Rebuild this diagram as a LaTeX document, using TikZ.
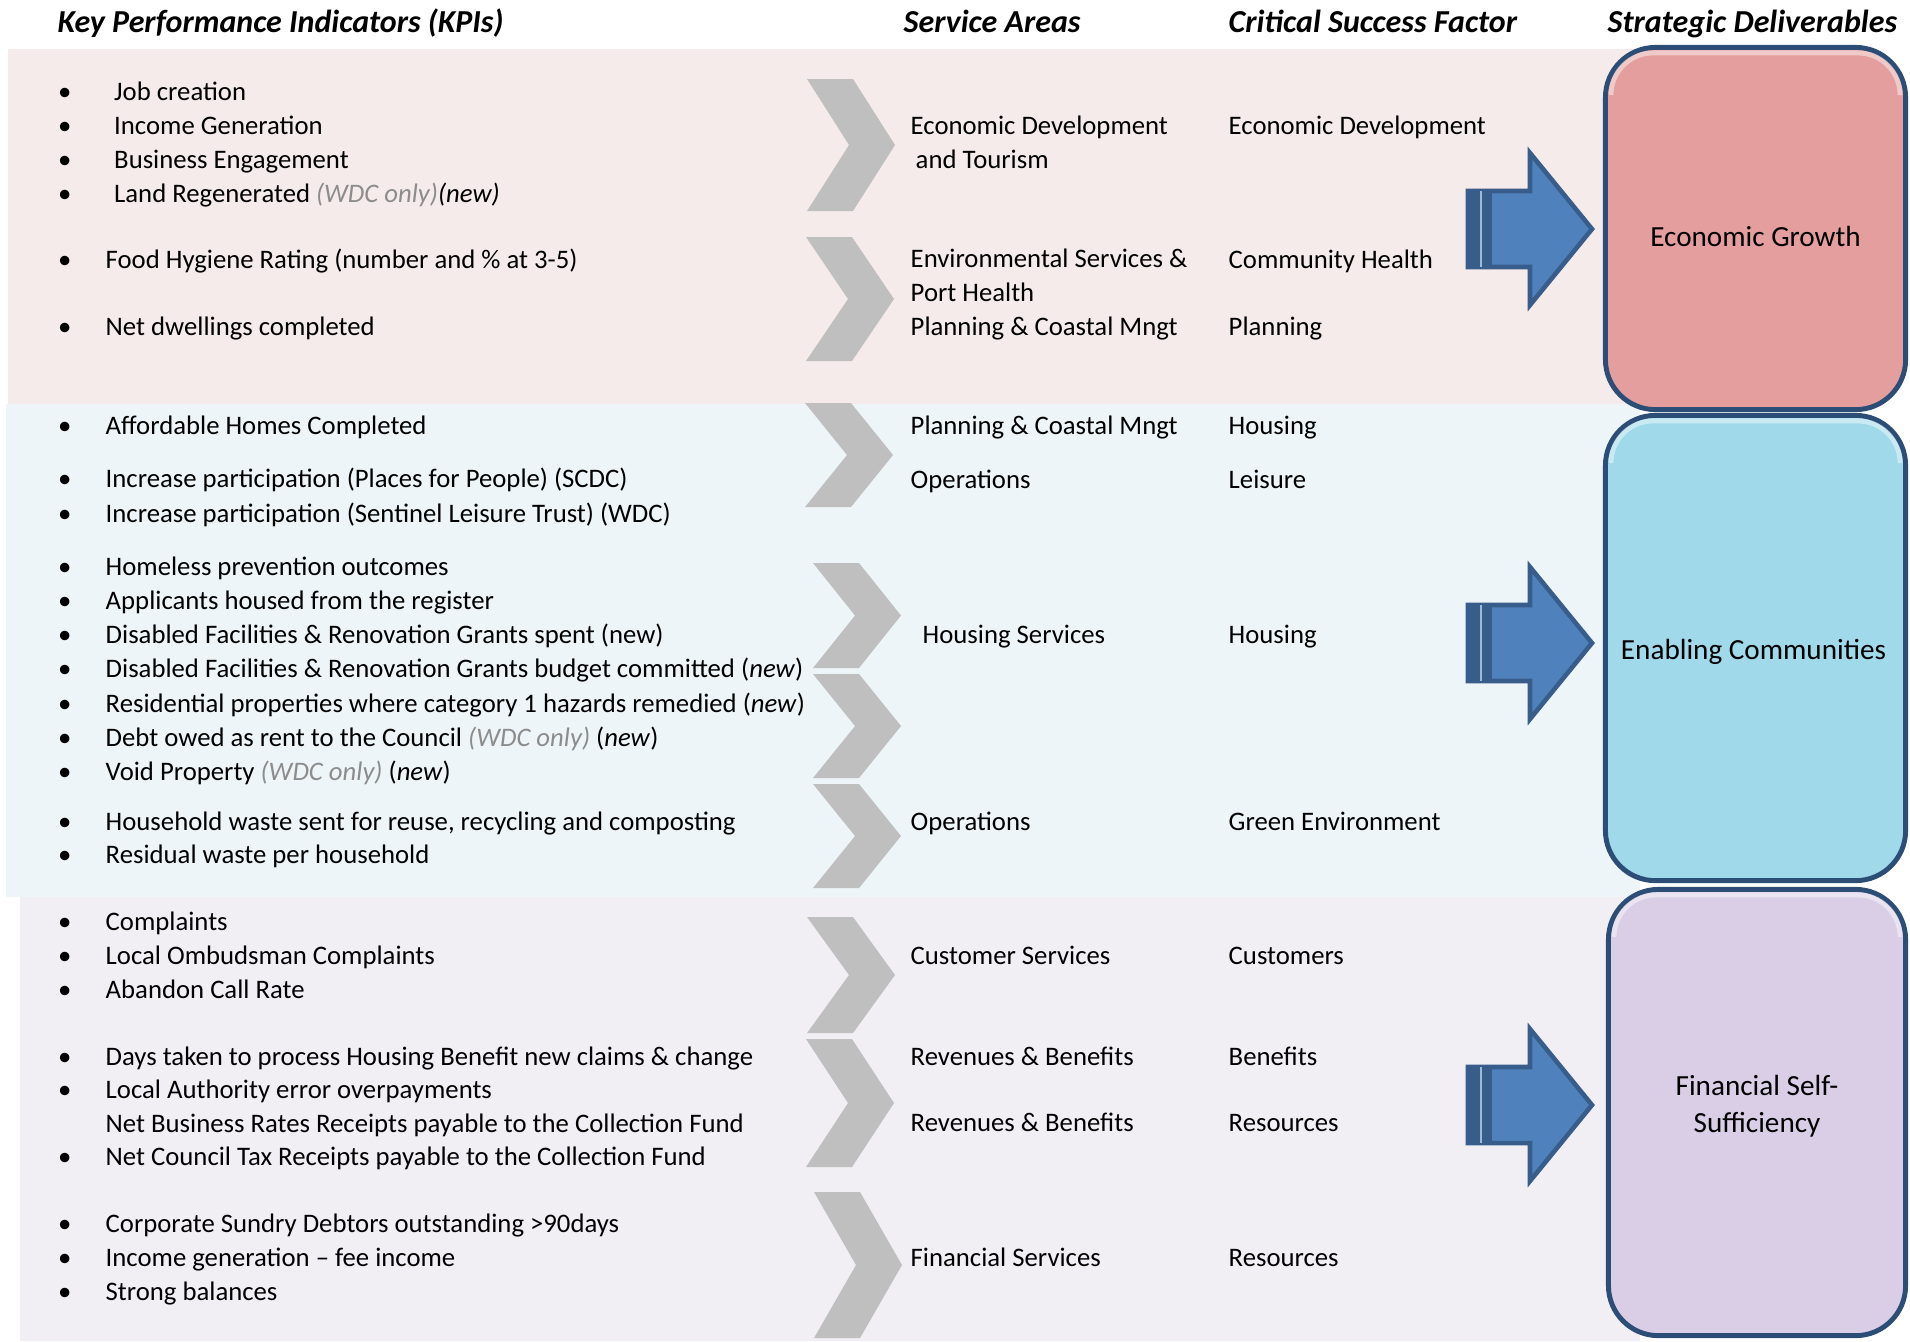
\documentclass[tikz,border=0pt]{standalone}
\usepackage{fontspec}
\setmainfont{Carlito}
\usetikzlibrary{calc}
\pgfdeclarelayer{bandbg}
\pgfsetlayers{bandbg,main}

\definecolor{pinkband}{HTML}{F5EBEB}
\definecolor{blueband}{HTML}{EDF5F8}
\definecolor{lilacband}{HTML}{F1EFF4}
\definecolor{chevgrey}{HTML}{BFBFBF}
\definecolor{arrowblue}{HTML}{4F81BD}
\definecolor{arrowedge}{HTML}{385D8A}
\definecolor{boxedge}{HTML}{2C4D75}
\definecolor{growthred}{HTML}{E59E9E}
\definecolor{enablecyan}{HTML}{A0D9EA}
\definecolor{selfviolet}{HTML}{DACDE6}
\definecolor{wdcgrey}{HTML}{8C8C8C}

\newcommand{\kpibul}[1][4.75mm]{\makebox[#1][l]{\textbullet}}
\newcommand{\kpinobul}{\hspace*{4.75mm}}
\newcommand{\wdconly}{\textcolor{wdcgrey}{\textit{(WDC only)}}}
% grey chevron: left edge, top, bottom
\newcommand{\kpichevron}[3]{\fill[chevgrey] (#1,#2) -- (#1+46,#2) -- (#1+88,{(#2+#3)/2}) -- (#1+46,#3) -- (#1,#3) -- (#1+42,{(#2+#3)/2}) -- cycle;}
% blue block arrow towards the deliverables, centred on y
\newcommand{\deliverarrow}[1]{%
  \filldraw[fill=arrowblue, draw=arrowedge, line width=1.3pt, line join=miter] (1468,#1-38) -- (1530,#1-38) -- (1530,#1-76) -- (1592,#1) -- (1530,#1+76) -- (1530,#1+38) -- (1468,#1+38) -- cycle;
  \fill[arrowedge] (1466,#1-40) rectangle (1492,#1+40);
  \draw[arrowblue!55!white, line width=0.6pt] (1481,#1-38) -- (1481,#1+38);}

% multi-line nodes sit on the baseline of their last line
\tikzset{
  kpi/.style={anchor=base west, align=left, inner sep=0pt, font=\fontsize{7.6}{9.7}\selectfont},
  heading/.style={anchor=base west, inner sep=0pt, font=\fontsize{9.1}{11}\selectfont\bfseries\itshape},
  delivbox/.style={draw=boxedge, line width=1.4pt, rounded corners=0.5cm},
  delivtext/.style={align=center, inner sep=0pt, font=\fontsize{8.3}{10.5}\selectfont},
  gloss/.style={white, opacity=0.45, line width=1.4pt, rounded corners=0.42cm},
}

\begin{document}
\begin{tikzpicture}[x=0.01cm, y=-0.01cm]
		\useasboundingbox (0,0) rectangle (1910,1341);
		
		\begin{pgfonlayer}{bandbg}
		\fill[pinkband] (8,49) rectangle (1640,404);
		\fill[blueband] (6,404) rectangle (1640,897);
		\fill[lilacband] (20,897) rectangle (1640,1341);
		\end{pgfonlayer}
		
		\node[heading] (kpihead) at (57,32) {Key Performance Indicators (KPIs)};
		\node[heading] (svchead) at (903,32) {Service Areas};
		\node[heading] (csfhead) at (1228,32) {Critical Success Factor};
		\node[heading] (delhead) at (1607,32) {Strategic Deliverables};
		
		% KPI groups
		\node[kpi] (kpiA) at (57.5,202.9) {\kpibul[5.6mm]Job creation\\\kpibul[5.6mm]Income Generation\\\kpibul[5.6mm]Business Engagement\\\kpibul[5.6mm]Land Regenerated \wdconly\textit{(new)}};
		\node[kpi] (kpiB) at (57.5,268.7) {\kpibul Food Hygiene Rating (number and \% at 3-5)};
		\node[kpi] (kpiC) at (57.5,335.7) {\kpibul Net dwellings completed};
		\node[kpi] (kpiD) at (57.5,434.3) {\kpibul Affordable Homes Completed};
		\node[kpi] (kpiE) at (57.5,522) {\kpibul Increase participation (Places for People) (SCDC)\\\kpibul Increase participation (Sentinel Leisure Trust) (WDC)};
		\node[kpi] (kpiF) at (57.5,780.3) {\kpibul Homeless prevention outcomes\\\kpibul Applicants housed from the register\\\kpibul Disabled Facilities \& Renovation Grants spent (new)\\\kpibul Disabled Facilities \& Renovation Grants budget committed (\textit{new})\\\kpibul Residential properties where category 1 hazards remedied (\textit{new})\\\kpibul Debt owed as rent to the Council \wdconly{} (\textit{new})\\\kpibul Void Property \wdconly{} (\textit{new})};
		\node[kpi, font=\fontsize{7.6}{9.4}\selectfont] (kpiG) at (57.5,863.1) {\kpibul Household waste sent for reuse, recycling and composting\\\kpibul Residual waste per household};
		\node[kpi] (kpiH) at (57.5,998.3) {\kpibul Complaints\\\kpibul Local Ombudsman Complaints\\\kpibul Abandon Call Rate};
		\node[kpi, font=\fontsize{7.6}{9.45}\selectfont] (kpiI) at (57.5,1165.2) {\kpibul Days taken to process Housing Benefit new claims \& change\\\kpibul Local Authority error overpayments\\\kpinobul Net Business Rates Receipts payable to the Collection Fund\\\kpibul Net Council Tax Receipts payable to the Collection Fund};
		\node[kpi] (kpiJ) at (57.5,1300.4) {\kpibul Corporate Sundry Debtors outstanding >90days\\\kpibul Income generation -- fee income\\\kpibul Strong balances};
		
		\kpichevron{807}{79}{211}
		\kpichevron{806}{237}{361}
		\kpichevron{805}{403}{507}
		\kpichevron{813}{563}{668}
		\kpichevron{813}{674}{778}
		\kpichevron{813}{784}{888}
		\kpichevron{807}{917}{1033}
		\kpichevron{806}{1039}{1167}
		\kpichevron{814}{1192}{1338}
		
		% service areas
		\node[kpi] (svcA) at (910,168.8) {Economic Development\\\hspace*{0.5mm}and Tourism};
		\node[kpi] (svcB) at (910,301.6) {Environmental Services \&\\Port Health};
		\node[kpi] (svcC) at (910,335.7) {Planning \& Coastal Mngt};
		\node[kpi] (svcD) at (910,434.3) {Planning \& Coastal Mngt};
		\node[kpi] (svcE) at (910,488) {Operations};
		\node[kpi] (svcF) at (922,643.9) {Housing Services};
		\node[kpi] (svcG) at (910,830.2) {Operations};
		\node[kpi] (svcH) at (910,964.2) {Customer Services};
		\node[kpi] (svcI) at (910,1065.3) {Revenues \& Benefits};
		\node[kpi] (svcJ) at (910,1131.1) {Revenues \& Benefits};
		\node[kpi] (svcK) at (910,1266.3) {Financial Services};
		
		% critical success factors
		\node[kpi] (csfA) at (1228,134.7) {Economic Development};
		\node[kpi] (csfB) at (1228,268.7) {Community Health};
		\node[kpi] (csfC) at (1228,335.7) {Planning};
		\node[kpi] (csfD) at (1228,434.3) {Housing};
		\node[kpi] (csfE) at (1228,488) {Leisure};
		\node[kpi] (csfF) at (1228,643.9) {Housing};
		\node[kpi] (csfG) at (1228,830.2) {Green Environment};
		\node[kpi] (csfH) at (1228,964.2) {Customers};
		\node[kpi] (csfI) at (1228,1065.3) {Benefits};
		\node[kpi] (csfJ) at (1228,1131.1) {Resources};
		\node[kpi] (csfK) at (1228,1266.3) {Resources};
		
		\deliverarrow{229}
		\deliverarrow{643}
		\deliverarrow{1105}
		
		\node[delivbox, fill=growthred, minimum width=3cm, minimum height=3.62cm] (growth) at (1755.5,228.5) {};
		\node[delivbox, fill=enablecyan, minimum width=3cm, minimum height=4.65cm] (enabling) at (1755.5,648) {};
		\node[delivbox, fill=selfviolet, minimum width=2.97cm, minimum height=4.46cm] (selfsuff) at (1757,1112.5) {};
		
		% light rim along the top of each box
		\draw[gloss] ($(growth.north west)+(8,50)$) -- ($(growth.north west)+(8,8)$) -- ($(growth.north east)+(-8,8)$) -- ($(growth.north east)+(-8,50)$);
		\draw[gloss] ($(enabling.north west)+(8,50)$) -- ($(enabling.north west)+(8,8)$) -- ($(enabling.north east)+(-8,8)$) -- ($(enabling.north east)+(-8,50)$);
		\draw[gloss] ($(selfsuff.north west)+(8,50)$) -- ($(selfsuff.north west)+(8,8)$) -- ($(selfsuff.north east)+(-8,8)$) -- ($(selfsuff.north east)+(-8,50)$);
		
		\node[delivtext] (growthtext) at ($(growth.center)+(0,8)$) {Economic Growth};
		\node[delivtext] (enablingtext) at ($(enabling.center)+(-2,4)$) {Enabling Communities};
		\node[delivtext] (selfsufftext) at ($(selfsuff.center)+(0,-6)$) {Financial Self-\\Sufficiency};
		
		\end{tikzpicture}
\end{document}
